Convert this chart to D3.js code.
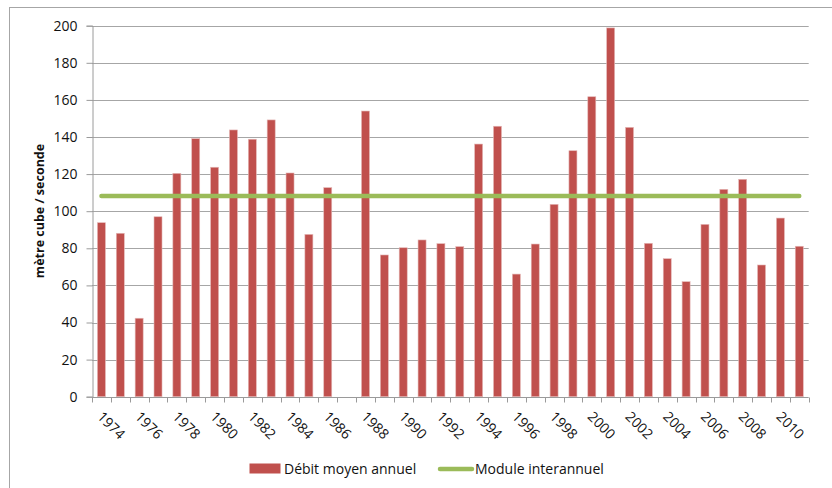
<!DOCTYPE html>
<html><head><meta charset="utf-8">
<script src="https://cdn.jsdelivr.net/npm/d3@7"></script>
<style>
html,body{margin:0;padding:0;background:#fff;}
svg{display:block;font-family:"Open Sans",sans-serif;}
</style></head>
<body>
<script>
const years = ["1974","1975","1976","1977","1978","1979","1980","1981","1982","1983","1984","1985","1986","1987","1988","1989","1990","1991","1992","1993","1994","1995","1996","1997","1998","1999","2000","2001","2002","2003","2004","2005","2006","2007","2008","2009","2010","2011"];
const debitMoyen = [93.8,88.1,42.3,97.0,120.4,139.1,123.7,143.8,138.8,149.2,120.6,87.5,112.7,null,154.0,76.4,80.3,84.5,82.5,80.9,136.2,145.8,66.1,82.3,103.7,132.6,161.7,198.8,145.2,82.7,74.4,62.0,92.9,111.8,117.2,71.0,96.3,81.1];
const moduleInterannuel = 108.2;
const yTicks = [0,20,40,60,80,100,120,140,160,180,200];
const xTickLabels = years.filter((d,i)=>i%2===0);
const seriesNames = ["Débit moyen annuel","Module interannuel"];
const yTitle = "mètre cube / seconde";

const W=832,H=488;
const svg=d3.select("body").append("svg").attr("width",W).attr("height",H);
const m={left:92,right:W-808.7,top:25.7,bottom:H-396.7};

// outer frame
svg.append("rect").attr("x",9.5).attr("y",7.5).attr("width",900).attr("height",600)
  .attr("fill","none").attr("stroke","#a6a6a6").attr("stroke-width",1);

const x=d3.scaleBand().domain(years).range([m.left,W-m.right]).padding(0);
const y=d3.scaleLinear().domain([0,200]).range([H-m.bottom,m.top]);

// gridlines
svg.append("g").selectAll("line").data(yTicks.filter(d=>d>0)).join("line")
  .attr("x1",m.left).attr("x2",W-m.right)
  .attr("y1",d=>Math.round(y(d))+0.5).attr("y2",d=>Math.round(y(d))+0.5)
  .attr("stroke","#a6a6a6").attr("stroke-width",1);

// y axis
const yAxis=d3.axisLeft(y).tickValues(yTicks).tickSize(6).tickPadding(9);
const gy=svg.append("g").attr("transform",`translate(${m.left+0.5},0)`).call(yAxis);
gy.select(".domain").attr("stroke","#9a9a9a");
gy.selectAll(".tick line").attr("stroke","#9a9a9a");
gy.selectAll(".tick text").attr("font-size",14).attr("fill","#111").attr("font-family","Open Sans");

// bars
const bw=8;
svg.append("g").selectAll("rect").data(years.map((yr,i)=>({yr,v:debitMoyen[i]})).filter(d=>d.v!==null)).join("rect")
  .attr("x",d=>x(d.yr)+x.bandwidth()/2-bw/2)
  .attr("y",d=>y(d.v))
  .attr("width",bw)
  .attr("height",d=>y(0)-y(d.v))
  .attr("fill","#C0504D")
  .attr("stroke","#e4b8b7").attr("stroke-width",0.6);

// x axis
const gx=svg.append("g").attr("transform",`translate(0,${Math.round(y(0))+0.5})`);
gx.append("line").attr("x1",m.left).attr("x2",W-m.right).attr("stroke","#9a9a9a");
const bounds=years.map(d=>x(d)).concat([x(years[years.length-1])+x.bandwidth()]);
gx.selectAll("line.tk").data(bounds).join("line").attr("class","tk")
  .attr("x1",d=>Math.round(d)+0.5).attr("x2",d=>Math.round(d)+0.5).attr("y1",0).attr("y2",5)
  .attr("stroke","#9a9a9a");
gx.selectAll("text").data(xTickLabels).join("text")
  .attr("transform",d=>`translate(${x(d)+x.bandwidth()/2-5},${20}) rotate(45)`)
  .attr("font-size",14).attr("fill","#111").text(d=>d);

// module line
svg.append("line")
  .attr("x1",x(years[0])+x.bandwidth()/2).attr("x2",x(years[years.length-1])+x.bandwidth()/2)
  .attr("y1",y(moduleInterannuel)).attr("y2",y(moduleInterannuel))
  .attr("stroke","#9BBB59").attr("stroke-width",4.5).attr("stroke-linecap","round");

// y title
svg.append("text").attr("transform",`translate(44,211) rotate(-90)`)
  .attr("text-anchor","middle").attr("font-size",12.5).attr("font-weight","bold").attr("fill","#111")
  .text(yTitle);

// legend
const lg=svg.append("g");
lg.append("rect").attr("x",249.5).attr("y",463.5).attr("width",31).attr("height",10).attr("fill","#C0504D");
lg.append("text").attr("x",284).attr("y",473.5).attr("font-size",14).attr("fill","#111").text(seriesNames[0]);
lg.append("line").attr("x1",440).attr("x2",472).attr("y1",469).attr("y2",469)
  .attr("stroke","#9BBB59").attr("stroke-width",4.5).attr("stroke-linecap","round");
lg.append("text").attr("x",475).attr("y",473.5).attr("font-size",14).attr("fill","#111").text(seriesNames[1]);
</script>
</body></html>
